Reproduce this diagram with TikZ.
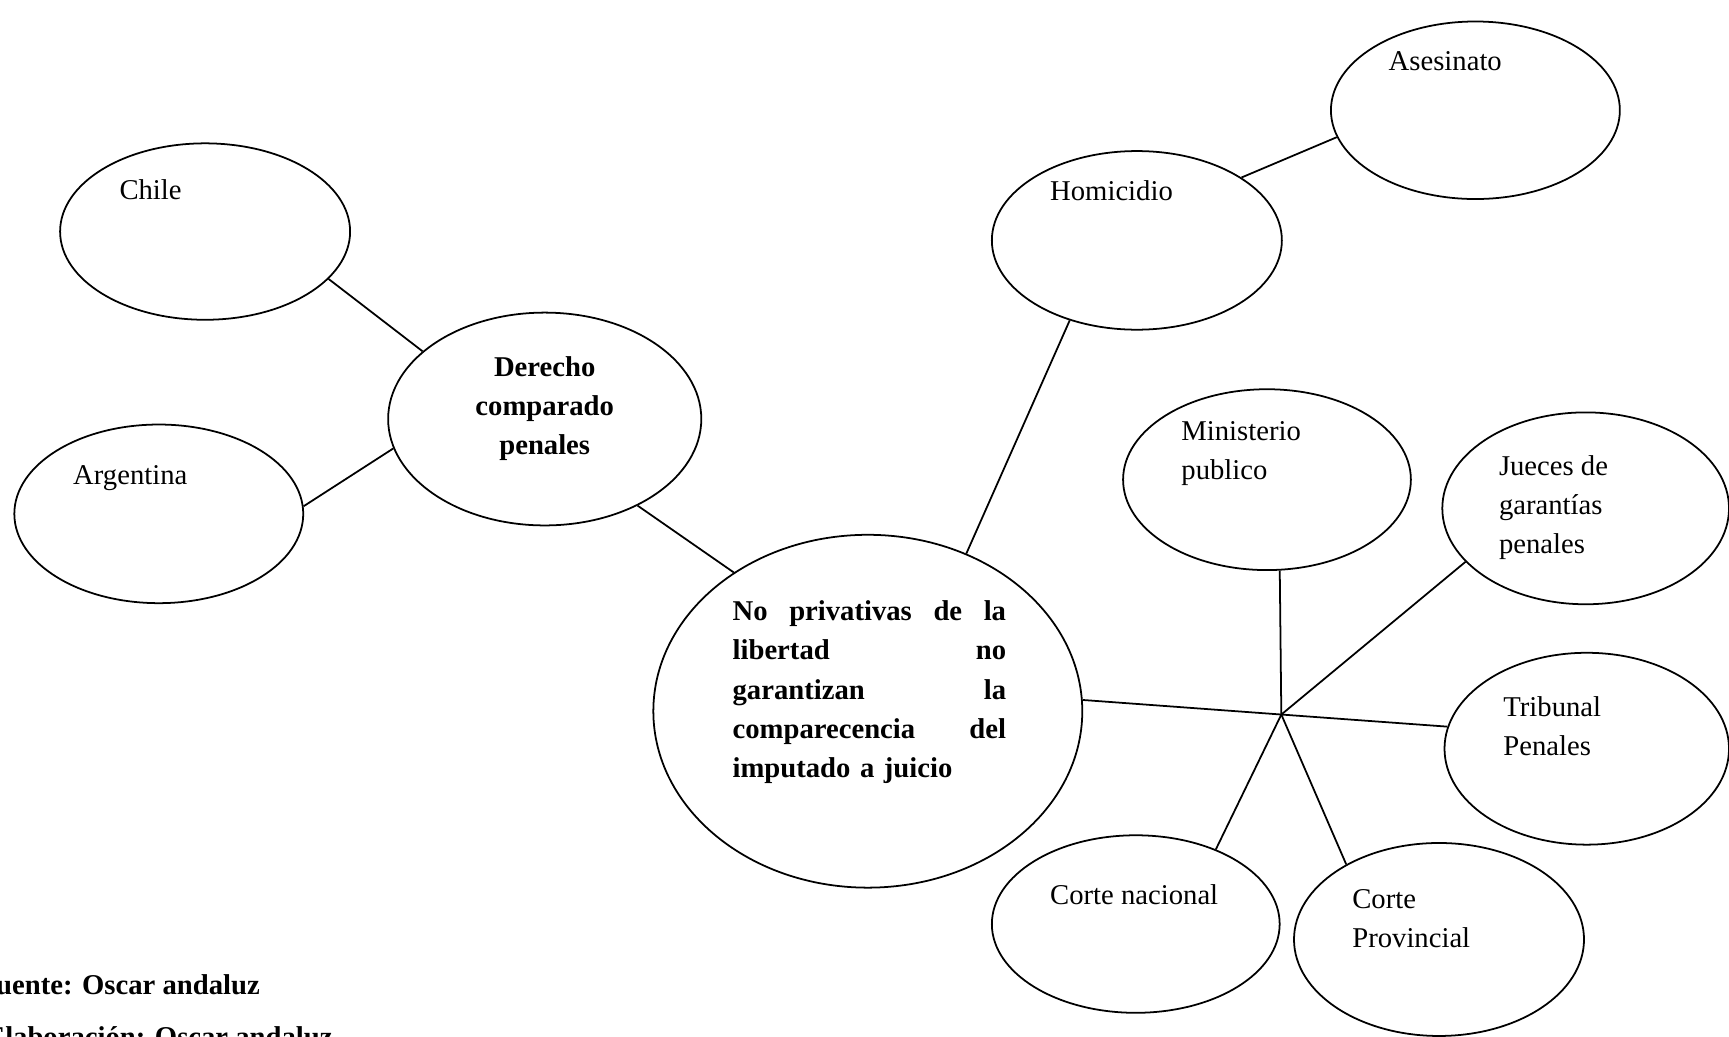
\documentclass[tikz,border=0pt]{standalone}
\usepackage{fontspec}
\setmainfont{Liberation Serif}
\usetikzlibrary{shapes.geometric}

\begin{document}
\begin{tikzpicture}[x=0.5pt,y=-0.5pt]
    \tikzstyle{E}=[ellipse,draw,line width=0.8pt,inner sep=0pt]
    \tikzstyle{T}=[anchor=base west,inner sep=0pt,align=left,font=\fontsize{13}{17.75}\selectfont]
    \tikzstyle{B}=[T,font=\fontsize{13}{17.75}\selectfont\bfseries]

   \useasboundingbox (0,0) rectangle (1568,940);

   % ellipses
   \node [E,minimum width=131.5pt,minimum height=80pt] (chile) at (186,210) {};
   \node [E,minimum width=131pt,minimum height=81pt] (argentina) at (144,466) {};
   \node [E,minimum width=142pt,minimum height=96.5pt] (derecho) at (494,380) {};
   \node [E,minimum width=194.5pt,minimum height=160pt] (central) at (787,645) {};
   \node [E,minimum width=131.5pt,minimum height=81pt] (homicidio) at (1031,218) {};
   \node [E,minimum width=131pt,minimum height=80.5pt] (asesinato) at (1338,100) {};
   \node [E,minimum width=130.5pt,minimum height=82pt] (ministerio) at (1149,435) {};
   \node [E,minimum width=130pt,minimum height=87pt] (jueces) at (1438,461) {};
   \node [E,minimum width=129pt,minimum height=87pt] (tribunal) at (1439,679) {};
   \node [E,minimum width=130.5pt,minimum height=80.5pt] (nacional) at (1030,838) {};
   \node [E,minimum width=131.5pt,minimum height=87.5pt] (provincial) at (1305,852) {};

   % texts (multi-line ones sit on their last line)
   \node [T] (chileT) at (108,181) {Chile};
   \node [T] (argentinaT) at (66,439) {Argentina};
   \node [B,anchor=base,align=center] (derechoT) at (494,412) {Derecho\\comparado\\penales};
   \node [B,text width=124pt] (centralT) at (664,563) {No\hfill privativas\hfill de\hfill la\\libertad\hfill no\\garantizan\hfill la\\comparecencia\hfill del\\imputado a juicio};
   \node [T] (homicidioT) at (952,182) {Homicidio};
   \node [T] (asesinatoT) at (1259,64) {Asesinato};
   \node [T] (ministerioT) at (1071,435) {Ministerio\\publico};
   \node [T] (juecesT) at (1359,502) {Jueces de\\garantías\\penales};
   \node [T] (tribunalT) at (1363,685) {Tribunal\\Penales};
   \node [T] (nacionalT) at (952,820) {Corte nacional};
   \node [T] (provincialT) at (1226,859) {Corte\\Provincial};
   \node [B,anchor=base east] (fuente) at (236,902) {Fuente: Oscar andaluz};
   \node [B,anchor=base east] (elaboracion) at (302,949) {Elaboración: Oscar andaluz};

   % connectors
   \coordinate (hub) at (1162,648);
   \draw [line width=0.8pt] (chile.-21) -- (derecho.151);
   \draw [line width=0.8pt] (argentina.3) -- (derecho.-169);
   \draw [line width=0.8pt] (derecho.-43) -- (central.134);
   \draw [line width=0.8pt] (central.58) -- (homicidio.-130);
   \draw [line width=0.8pt] (homicidio.31) -- (asesinato.-169);
   \draw [line width=0.8pt] (central.3) -- (hub);
   \draw [line width=0.8pt] (ministerio.-82) -- (hub);
   \draw [line width=0.8pt] (jueces.-156) -- (hub);
   \draw [line width=0.8pt] (tribunal.171) -- (hub);
   \draw [line width=0.8pt] (nacional.43) -- (hub);
   \draw [line width=0.8pt] (provincial.141) -- (hub);
\end{tikzpicture}
\end{document}
